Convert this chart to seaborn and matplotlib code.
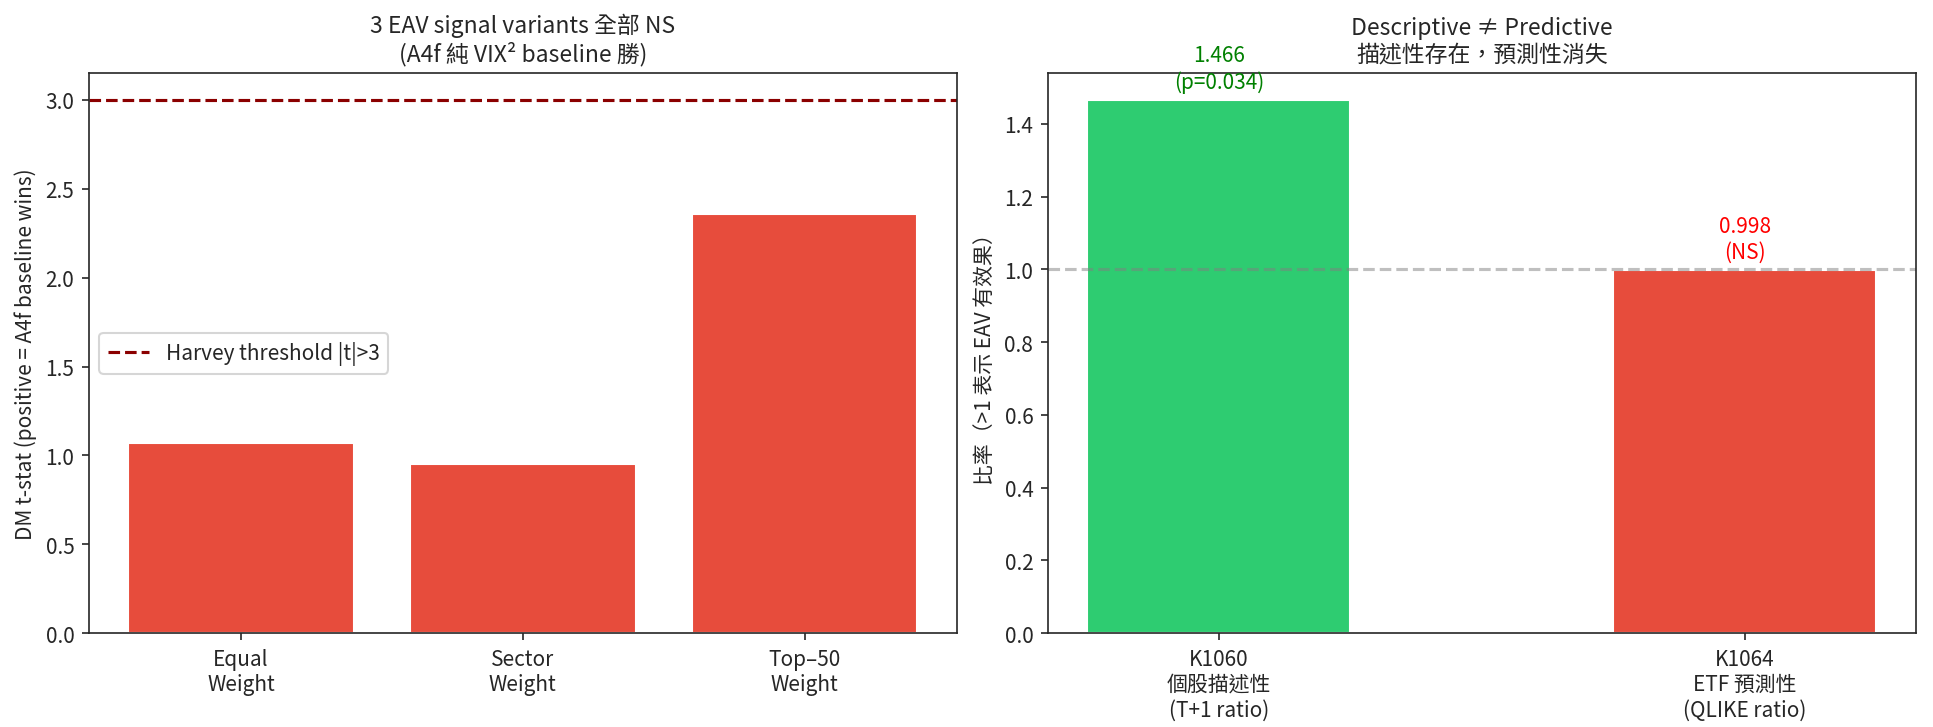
import numpy as np
import pandas as pd
import matplotlib
matplotlib.use('Agg')
import matplotlib.pyplot as plt
import seaborn as sns

sns.set_style('ticks')
plt.rcParams['font.family'] = ['Noto Sans CJK TC', 'DejaVu Sans']
plt.rcParams['axes.unicode_minus'] = False

# left panel: DM t-stat per EAV variant
variants = ['Equal\nWeight', 'Sector\nWeight', 'Top\u201250\nWeight']
dm_tstat = [1.07, 0.95, 2.36]
harvey_t = 3.0

# right panel: descriptive vs predictive ratio
tests = ['K1060\n個股描述性\n(T+1 ratio)', 'K1064\nETF 預測性\n(QLIKE ratio)']
ratios = [1.466, 0.998]
ratio_notes = ['(p=0.034)', '(NS)']
bar_colors = ['#2ecc71', '#e74c3c']
note_colors = ['green', 'red']

fig, axes = plt.subplots(1, 2, figsize=(12.887, 4.853), dpi=150)
plt.subplots_adjust(left=0.046, right=0.991, bottom=0.129, top=0.898, wspace=0.105)

# Left: DM t-stats
ax = axes[0]
df_l = pd.DataFrame({'variant': variants, 'tstat': dm_tstat})
sns.barplot(data=df_l, x='variant', y='tstat', color='#e74c3c', saturation=1,
            width=0.8, ax=ax)
ax.axhline(harvey_t, color='darkred', ls='--', lw=1.5, label='Harvey threshold |t|>3')
ax.autoscale(enable=True, axis='x')
ax.autoscale_view()
ax.set_ylim(0, harvey_t * 1.05)
ax.set_xlabel('')
ax.set_ylabel('DM t-stat (positive = A4f baseline wins)')
ax.set_title('3 EAV signal variants 全部 NS\n(A4f 純 VIX² baseline 勝)', fontsize=11)
ax.legend(loc='center left')

# Right: ratios
ax = axes[1]
df_r = pd.DataFrame({'test': tests, 'ratio': ratios})
sns.barplot(data=df_r, x='test', y='ratio', hue='test', palette=bar_colors,
            saturation=1, width=0.5, legend=False, ax=ax)
ax.axhline(1.0, color='gray', ls='--', lw=1.5, alpha=0.5)
ax.autoscale(enable=True, axis='x')
ax.autoscale_view()
ax.set_ylim(0, max(ratios) * 1.05)
for i, (v, note, c) in enumerate(zip(ratios, ratio_notes, note_colors)):
    ax.text(i, v + 0.02, f'{v:.3f}\n{note}', ha='center', va='bottom',
            color=c, fontsize=10)
ax.set_xlabel('')
ax.set_ylabel('比率（>1 表示 EAV 有效果）')
ax.set_title('Descriptive ≠ Predictive\n描述性存在，預測性消失', fontsize=11)

fig.savefig('out.png', dpi=150)
